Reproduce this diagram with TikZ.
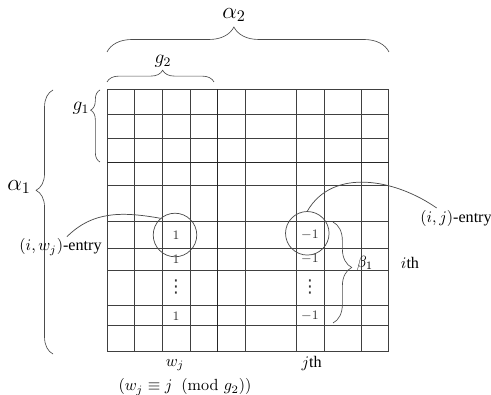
\documentclass[tikz,border=0pt]{standalone}
\usepackage[no-math]{fontspec}
\setmainfont{Liberation Serif}
\newfontfamily\symfont{DejaVu Sans}
\usetikzlibrary{decorations.pathreplacing}
\tikzset{
    gridline/.style = {draw = black!75, line width = 0.45pt},
    thickline/.style = {draw = black!85, line width = 0.9pt},
    cbrace/.style n args = {2}{
        decorate,
        draw = black!70,
        line width = 0.4pt,
        decoration = {brace, amplitude = #1, aspect = #2}
    },
    entry/.style = {font = \footnotesize, inner sep = 0pt, text = black!80},
    vdotsnode/.style = {font = \symfont\fontsize{11}{11}\selectfont, inner sep = 0pt, text = black!80},
    ring/.style = {circle, draw = black!70, line width = 0.45pt, minimum size = 27pt, inner sep = 0pt},
    label/.style = {inner sep = 1pt},
    link/.style = {draw = black!70, line width = 0.45pt}
}
\begin{document}
\begin{tikzpicture}[x=0.62pt, y=-0.62pt]
            \useasboundingbox (0,0) rectangle (491,395);
            \foreach \x in {107,134.7,162.3,190.3,245.3,296,324.7,361.7,388.7}
                \draw[gridline] (\x,89.3) -- (\x,351.7);
            \foreach \y in {89.3,114.3,138,185.5,221,248.3,270.7,305.3,325.7,351.7}
                \draw[gridline] (107,\y) -- (388.7,\y);
            \draw[thickline] (217.3,89.3) -- (217.3,351.7);
            \draw[thickline] (107,162.7) -- (388.7,162.7);

            \node[entry] (w1) at (176,235) {$1$};
            \node[entry] (w2) at (176,259) {$1$};
            \node[vdotsnode] (w3) at (176,287) {⋮};
            \node[entry] (w4) at (176,316) {$1$};
            \node[entry] (j1) at (310,235) {$-1$};
            \node[entry] (j2) at (310,259) {$-1$};
            \node[vdotsnode] (j3) at (310,287) {⋮};
            \node[entry] (j4) at (310,316) {$-1$};

            \node[ring] (cw) at (175,235) {};
            \node[ring] (cj) at (307.3,233.3) {};

            \draw[cbrace={15.5pt}{0.45}] (107,52) -- (389,52);
            \node[font=\Large] (a2) at (234,15) {$\alpha_2$};
            \draw[cbrace={7.3pt}{0.52}] (107,82) -- (214,82);
            \node[font=\large] (g2) at (163,61) {$g_2$};
            \draw[cbrace={5.8pt}{0.72}] (100,162) -- (100,90);
            \node[font=\large] (g1) at (81,108) {$g_1$};
            \draw[cbrace={10.5pt}{0.62}] (53,354) -- (53,90);
            \node[font=\Large] (a1) at (19,187) {$\alpha_1$};
            \draw[cbrace={11.6pt}{0.45}] (333,222) -- (333,323);
            \node (b1) at (365,263) {$\beta_1$};

            \node[label] (lw) at (60.5,247) {$(i,w_j)$-entry};
            \node[label] (lj) at (456,218) {$(i,j)$-entry};
            \draw[link] (cw.131) to[out=170, in=45] ([xshift=4pt]lw.north);
            \draw[link] (cj.north) to[out=60, in=145] ([xshift=-12pt]lj.north);

            \node (ith) at (410,263) {$i$th};
            \node (wj) at (175,365) {$w_j$};
            \node (jth) at (311.7,363) {$j$th};
            \node (md) at (185,387) {$(w_j\equiv j\mkern10mu(\mathrm{mod}\mkern6mu g_2))$};
        \end{tikzpicture}
\end{document}
